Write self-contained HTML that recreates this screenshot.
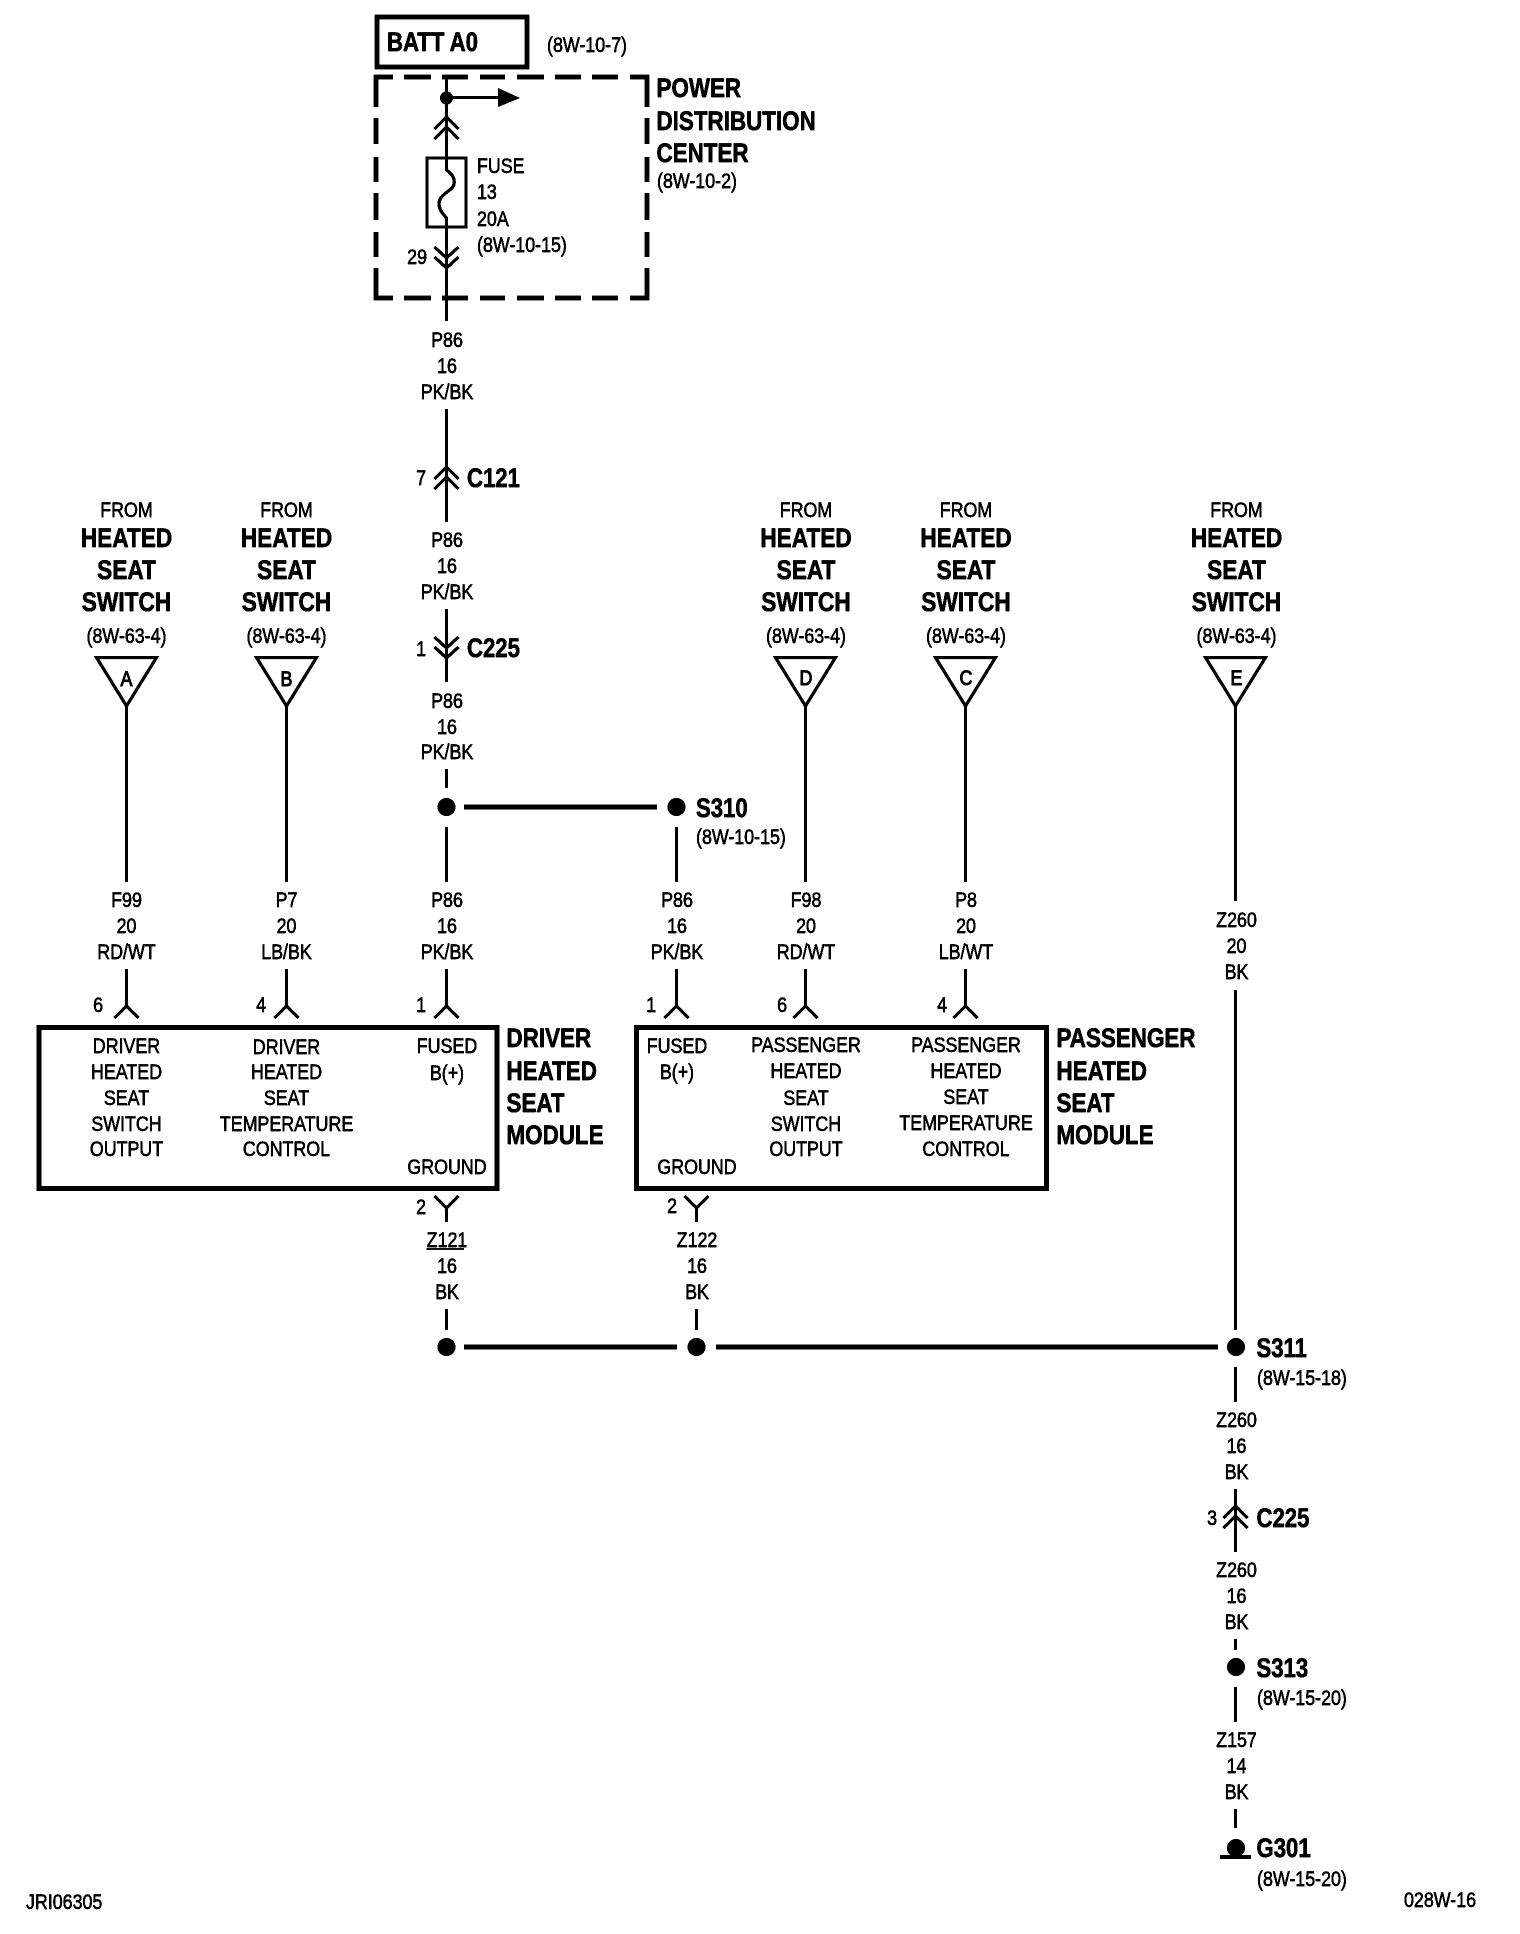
<!DOCTYPE html>
<html lang="en">
<head>
<meta charset="utf-8">
<title>Heated Seat Module Wiring Diagram</title>
<style>
html,body{margin:0;padding:0;background:#fff}
svg{display:block}
text{font-family:"Liberation Sans",Arial,sans-serif;fill:#000}
.r text{font-size:21px;stroke:#000;stroke-width:.55px}
.b text{font-size:27px;font-weight:bold;stroke:#000;stroke-width:.6px}
.r text.k{stroke-width:1.1px}
.c{text-anchor:middle}
.e{text-anchor:end}
.ln{fill:none;stroke:#000;stroke-width:3.2;stroke-linecap:butt;stroke-linejoin:miter}
.hv{fill:none;stroke:#000;stroke-width:5}
</style>
</head>
<body>
<svg xmlns="http://www.w3.org/2000/svg" width="1520" height="1934" viewBox="0 0 1520 1934">
<defs>
<filter id="t" filterUnits="userSpaceOnUse" x="0" y="0" width="1520" height="1934" color-interpolation-filters="sRGB">
<feComponentTransfer><feFuncA type="linear" slope="3.5" intercept="-0.9"/></feComponentTransfer>
</filter>
</defs>
<rect width="1520" height="1934" fill="#fff"/>
<g filter="url(#t)">

<!-- BATT box and dashed PDC box -->
<rect x="377" y="17" width="150" height="50" fill="none" stroke="#000" stroke-width="4.5"/>
<path class="hv" style="stroke-width:4.5" d="M376 107V77H393M404 77H431M442 77H468M480 77H505M517 77H544M555 77H581M592 77H618M630 77H647V107M647 118V144M647 157V182M647 193V220M647 232V257M647 268V298H630M618 298H592M581 298H555M544 298H517M505 298H480M468 298H442M431 298H404M393 298H376V268M376 257V232M376 220V193M376 182V157M376 144V118"/>

<!-- Fuse -->
<rect x="427" y="158" width="39" height="69" fill="none" stroke="#000" stroke-width="3"/>
<path class="ln" d="M446.5 77V170C452 174 455 178 454 184C453 191 440 193 439 203C439 210 443 214 446.5 218V321"/>
<circle cx="446.5" cy="98" r="6.5"/>
<path class="ln" d="M446 97.5H500"/>
<polygon points="498,88 520,98 498,107"/>

<!-- Connector chevrons top -->
<path class="ln" d="M434.5 129L446.5 117L458.5 129M434.5 139L446.5 127L458.5 139"/>
<path class="ln" d="M434.5 247L446.5 258L458.5 247M434.5 257L446.5 268L458.5 257"/>

<!-- Main wire -->
<path class="ln" d="M446.5 409V522M434.5 479L446.5 467L458.5 479M434.5 489L446.5 477L458.5 489"/>
<path class="ln" d="M446.5 609V682M434.5 637L446.5 648L458.5 637M434.5 647L446.5 658L458.5 647"/>
<path class="ln" d="M446.5 769V788M446.5 827V882M676.5 827V882"/>

<!-- Triangles -->
<g fill="#fff" stroke="#000" stroke-width="3.2">
<polygon points="96.5,657.5 156.5,657.5 126.5,706"/>
<polygon points="256.5,657.5 316.5,657.5 286.5,706"/>
<polygon points="775.5,657.5 835.5,657.5 805.5,706"/>
<polygon points="935.5,657.5 995.5,657.5 965.5,706"/>
<polygon points="1205.5,657.5 1265.5,657.5 1235.5,706"/>
</g>
<path class="ln" d="M126.5 705V882M286.5 705V882M805.5 705V882M965.5 705V882M1235.5 705V901M1235.5 990V1330"/>

<!-- Wires into modules -->
<path class="ln" d="M126.5 969V1006M114.5 1018L126.5 1006L138.5 1018"/>
<path class="ln" d="M286.5 969V1006M274.5 1018L286.5 1006L298.5 1018"/>
<path class="ln" d="M446.5 969V1006M434.5 1018L446.5 1006L458.5 1018"/>
<path class="ln" d="M676.5 969V1006M664.5 1018L676.5 1006L688.5 1018"/>
<path class="ln" d="M805.5 969V1006M793.5 1018L805.5 1006L817.5 1018"/>
<path class="ln" d="M965.5 969V1006M953.5 1018L965.5 1006L977.5 1018"/>

<!-- Modules -->
<rect x="39" y="1027.5" width="458" height="161" fill="none" stroke="#000" stroke-width="5"/>
<rect x="636.5" y="1027.5" width="410" height="161" fill="none" stroke="#000" stroke-width="5"/>

<!-- Ground pins -->
<path class="ln" d="M434.5 1196L446.5 1208L458.5 1196M446.5 1208V1222M446.5 1309V1330"/>
<path class="ln" d="M684.5 1196L696.5 1208L708.5 1196M696.5 1208V1222M696.5 1309V1330"/>
<path d="M426.5 1249H464" stroke="#000" stroke-width="1.5" fill="none"/>

<!-- Splices -->
<circle cx="446.5" cy="807" r="9"/>
<circle cx="676.5" cy="807" r="9"/>
<path class="hv" d="M464 807H657"/>
<circle cx="446.5" cy="1347" r="9"/>
<circle cx="696.5" cy="1347" r="9"/>
<circle cx="1236" cy="1347" r="9"/>
<path class="hv" d="M464 1347H677M716 1347H1218"/>

<!-- Right column -->
<path class="ln" d="M1235.5 1367V1402M1235.5 1489V1552M1223.5 1518L1235.5 1506L1247.5 1518M1223.5 1528L1235.5 1516L1247.5 1528"/>
<path class="ln" d="M1235.5 1639V1650M1235.5 1687V1722M1235.5 1809V1828"/>
<circle cx="1236" cy="1667" r="9"/>
<circle cx="1236" cy="1848" r="9"/>
<rect x="1220" y="1855" width="31" height="4"/>

<!-- BOLD LEFT-ALIGNED -->
<g class="b" transform="translate(387,0) scale(.82,1)"><text y="51">BATT A0</text></g>
<g class="b" transform="translate(656.5,0) scale(.83,1)"><text y="97">POWER</text><text y="130">DISTRIBUTION</text><text y="162">CENTER</text></g>
<g class="b" transform="translate(467,0) scale(.82,1)"><text y="487">C121</text><text y="657">C225</text></g>
<g class="b" transform="translate(696,0) scale(.82,1)"><text y="817">S310</text></g>
<g class="b" transform="translate(506.5,0) scale(.83,1)"><text y="1047">DRIVER</text><text y="1080">HEATED</text><text y="1112">SEAT</text><text y="1144">MODULE</text></g>
<g class="b" transform="translate(1056.5,0) scale(.83,1)"><text y="1047">PASSENGER</text><text y="1080">HEATED</text><text y="1112">SEAT</text><text y="1144">MODULE</text></g>
<g class="b" transform="translate(1256.5,0) scale(.82,1)"><text y="1357">S311</text><text y="1527">C225</text><text y="1677">S313</text><text y="1857">G301</text></g>

<!-- REGULAR LEFT-ALIGNED -->
<g class="r" transform="translate(547,0) scale(.85,1)"><text y="52">(8W-10-7)</text></g>
<g class="r" transform="translate(657,0) scale(.85,1)"><text y="188">(8W-10-2)</text></g>
<g class="r" transform="translate(477,0) scale(.85,1)"><text y="173">FUSE</text><text y="199">13</text><text y="226">20A</text><text y="252">(8W-10-15)</text></g>
<g class="r" transform="translate(696,0) scale(.85,1)"><text y="844">(8W-10-15)</text></g>
<g class="r" transform="translate(1257,0) scale(.85,1)"><text y="1385">(8W-15-18)</text><text y="1705">(8W-15-20)</text><text y="1886">(8W-15-20)</text></g>
<g class="r" transform="translate(1404,0) scale(.85,1)"><text y="1907">028W-16</text></g>
<g class="r" transform="translate(26,0) scale(.85,1)"><text y="1909">JRI06305</text></g>

<!-- PIN NUMBERS -->
<g class="r e" transform="translate(427,0) scale(.85,1)"><text class="e" y="264">29</text></g>
<g class="r" transform="translate(426,0) scale(.85,1)"><text class="e" y="485">7</text><text class="e" y="656">1</text><text class="e" y="1012">1</text><text class="e" y="1214">2</text></g>
<g class="r" transform="translate(103,0) scale(.85,1)"><text class="e" y="1012">6</text></g>
<g class="r" transform="translate(266,0) scale(.85,1)"><text class="e" y="1012">4</text></g>
<g class="r" transform="translate(656,0) scale(.85,1)"><text class="e" y="1012">1</text></g>
<g class="r" transform="translate(677,0) scale(.85,1)"><text class="e" y="1213">2</text></g>
<g class="r" transform="translate(787,0) scale(.85,1)"><text class="e" y="1012">6</text></g>
<g class="r" transform="translate(947,0) scale(.85,1)"><text class="e" y="1012">4</text></g>
<g class="r" transform="translate(1217,0) scale(.85,1)"><text class="e" y="1525">3</text></g>

<!-- Column A -->
<g class="r" transform="translate(126.5,0) scale(.85,1)"><text class="c" y="517">FROM</text><text class="c" y="643">(8W-63-4)</text><text class="c k" y="686">A</text><text class="c" y="907">F99</text><text class="c" y="933">20</text><text class="c" y="959">RD/WT</text><text class="c" y="1053">DRIVER</text><text class="c" y="1079">HEATED</text><text class="c" y="1105">SEAT</text><text class="c" y="1131">SWITCH</text><text class="c" y="1156">OUTPUT</text></g>
<g class="b" transform="translate(126.5,0) scale(.84,1)"><text class="c" y="547">HEATED</text><text class="c" y="579">SEAT</text><text class="c" y="611">SWITCH</text></g>

<!-- Column B -->
<g class="r" transform="translate(286.5,0) scale(.85,1)"><text class="c" y="517">FROM</text><text class="c" y="643">(8W-63-4)</text><text class="c k" y="686">B</text><text class="c" y="907">P7</text><text class="c" y="933">20</text><text class="c" y="959">LB/BK</text><text class="c" y="1054">DRIVER</text><text class="c" y="1079">HEATED</text><text class="c" y="1105">SEAT</text><text class="c" y="1131">TEMPERATURE</text><text class="c" y="1156">CONTROL</text></g>
<g class="b" transform="translate(286.5,0) scale(.84,1)"><text class="c" y="547">HEATED</text><text class="c" y="579">SEAT</text><text class="c" y="611">SWITCH</text></g>

<!-- Main column labels -->
<g class="r" transform="translate(447,0) scale(.85,1)"><text class="c" y="347">P86</text><text class="c" y="373">16</text><text class="c" y="399">PK/BK</text><text class="c" y="547">P86</text><text class="c" y="573">16</text><text class="c" y="599">PK/BK</text><text class="c" y="708">P86</text><text class="c" y="734">16</text><text class="c" y="759">PK/BK</text><text class="c" y="907">P86</text><text class="c" y="933">16</text><text class="c" y="959">PK/BK</text><text class="c" y="1053">FUSED</text><text class="c" y="1080">B(+)</text><text class="c" y="1174">GROUND</text><text class="c" y="1247">Z121</text><text class="c" y="1273">16</text><text class="c" y="1299">BK</text></g>

<!-- Passenger first column -->
<g class="r" transform="translate(677,0) scale(.85,1)"><text class="c" y="907">P86</text><text class="c" y="933">16</text><text class="c" y="959">PK/BK</text><text class="c" y="1053">FUSED</text><text class="c" y="1079">B(+)</text></g>
<g class="r" transform="translate(697,0) scale(.85,1)"><text class="c" y="1174">GROUND</text><text class="c" y="1247">Z122</text><text class="c" y="1273">16</text><text class="c" y="1299">BK</text></g>

<!-- Column D -->
<g class="r" transform="translate(806,0) scale(.85,1)"><text class="c" y="517">FROM</text><text class="c" y="643">(8W-63-4)</text><text class="c k" y="685">D</text><text class="c" y="907">F98</text><text class="c" y="933">20</text><text class="c" y="959">RD/WT</text><text class="c" y="1052">PASSENGER</text><text class="c" y="1078">HEATED</text><text class="c" y="1105">SEAT</text><text class="c" y="1131">SWITCH</text><text class="c" y="1156">OUTPUT</text></g>
<g class="b" transform="translate(806,0) scale(.84,1)"><text class="c" y="547">HEATED</text><text class="c" y="579">SEAT</text><text class="c" y="611">SWITCH</text></g>

<!-- Column C -->
<g class="r" transform="translate(966,0) scale(.85,1)"><text class="c" y="517">FROM</text><text class="c" y="643">(8W-63-4)</text><text class="c k" y="685">C</text><text class="c" y="907">P8</text><text class="c" y="933">20</text><text class="c" y="959">LB/WT</text><text class="c" y="1052">PASSENGER</text><text class="c" y="1078">HEATED</text><text class="c" y="1104">SEAT</text><text class="c" y="1130">TEMPERATURE</text><text class="c" y="1156">CONTROL</text></g>
<g class="b" transform="translate(966,0) scale(.84,1)"><text class="c" y="547">HEATED</text><text class="c" y="579">SEAT</text><text class="c" y="611">SWITCH</text></g>

<!-- Column E -->
<g class="r" transform="translate(1236.5,0) scale(.85,1)"><text class="c" y="517">FROM</text><text class="c" y="643">(8W-63-4)</text><text class="c k" y="685">E</text><text class="c" y="927">Z260</text><text class="c" y="953">20</text><text class="c" y="979">BK</text><text class="c" y="1427">Z260</text><text class="c" y="1453">16</text><text class="c" y="1479">BK</text><text class="c" y="1577">Z260</text><text class="c" y="1603">16</text><text class="c" y="1629">BK</text><text class="c" y="1747">Z157</text><text class="c" y="1773">14</text><text class="c" y="1799">BK</text></g>
<g class="b" transform="translate(1236.5,0) scale(.84,1)"><text class="c" y="547">HEATED</text><text class="c" y="579">SEAT</text><text class="c" y="611">SWITCH</text></g>
</g>
</svg>
</body>
</html>
